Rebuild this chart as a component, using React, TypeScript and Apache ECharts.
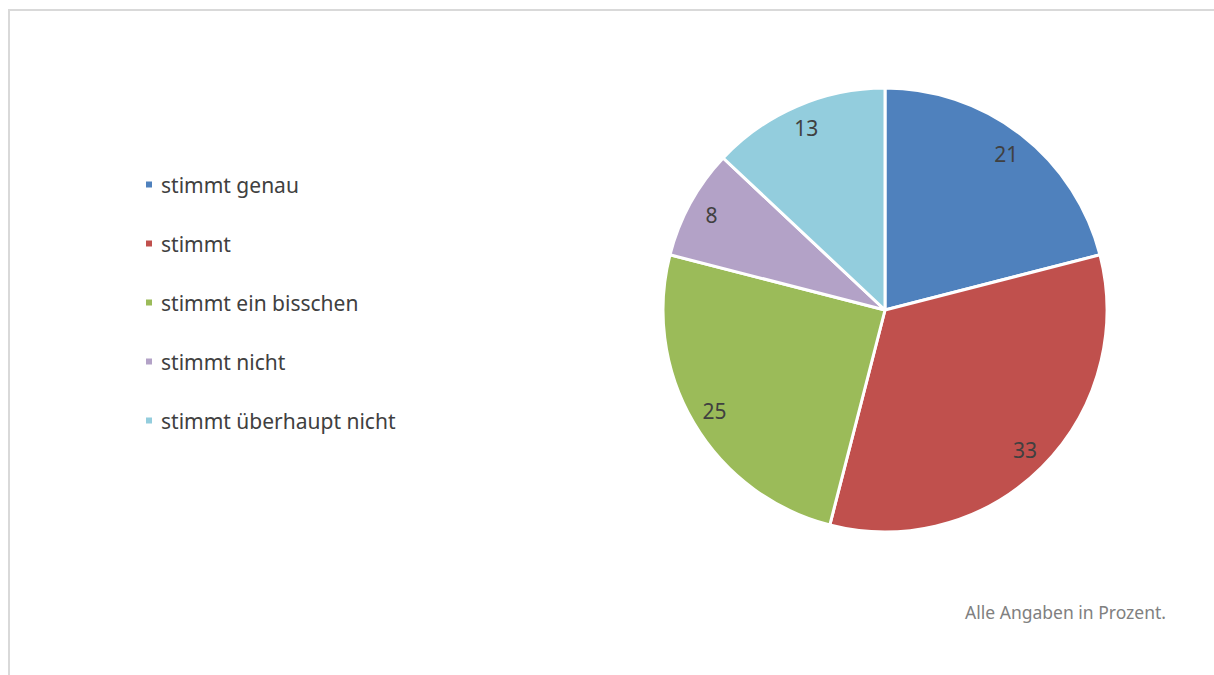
import React, { useEffect, useRef } from "react";
import * as echarts from "echarts";

const categories = [
  "stimmt genau",
  "stimmt",
  "stimmt ein bisschen",
  "stimmt nicht",
  "stimmt überhaupt nicht",
];
const values = [21, 33, 25, 8, 13];
const colors = ["#4F81BD", "#C0504D", "#9BBB59", "#B3A2C7", "#93CDDD"];
const footnote = "Alle Angaben in Prozent.";

const FONT = "'Noto Sans', 'Open Sans', sans-serif";

export default function App() {
  const ref = useRef<HTMLDivElement>(null);
  useEffect(() => {
    if (!ref.current) return;
    const chart = echarts.init(ref.current, undefined, { renderer: "svg" });
    const data = categories.map((name, i) => ({
      name,
      value: values[i],
      itemStyle: { color: colors[i] },
    }));
    chart.setOption({
      animation: false,
      backgroundColor: "#ffffff",
      legend: {
        orient: "vertical",
        left: 144,
        top: 174,
        padding: 0,
        icon: "rect",
        itemWidth: 8,
        itemHeight: 8,
        itemGap: 38,
        selectedMode: false,
        data: categories,
        textStyle: {
          fontFamily: FONT,
          fontSize: 21,
          lineHeight: 21,
          color: "#404040",
          padding: [0, 0, 0, 3],
        },
      },
      graphic: [
        {
          type: "rect",
          shape: { x: 9, y: 10, width: 1215, height: 700 },
          style: { fill: "none", stroke: "#D9D9D9", lineWidth: 2 },
          silent: true,
        },
        {
          type: "text",
          right: 48,
          top: 603,
          style: {
            text: footnote,
            font: `17.5px ${FONT}`,
            fill: "#808080",
          },
          silent: true,
        },
      ],
      series: [
        {
          type: "pie",
          center: [885, 310],
          radius: [0, 222],
          startAngle: 90,
          clockwise: true,
          silent: true,
          itemStyle: { borderColor: "#ffffff", borderWidth: 3 },
          label: { show: false },
          labelLine: { show: false },
          data,
        },
        {
          type: "pie",
          center: [885, 310],
          radius: [168, 222],
          startAngle: 90,
          clockwise: true,
          silent: true,
          itemStyle: { color: "rgba(0,0,0,0)", borderWidth: 0 },
          label: {
            show: true,
            position: "inside",
            formatter: "{c}",
            fontFamily: FONT,
            fontSize: 21,
            color: "#404040",
          },
          labelLine: { show: false },
          data: categories.map((name, i) => ({
            name,
            value: values[i],
            itemStyle: { color: "rgba(0,0,0,0)" },
          })),
        },
      ],
    });
    return () => chart.dispose();
  }, []);
  return (
    <div
      ref={ref}
      style={{ position: "fixed", left: 0, top: 0, width: 1214, height: 675 }}
    />
  );
}
